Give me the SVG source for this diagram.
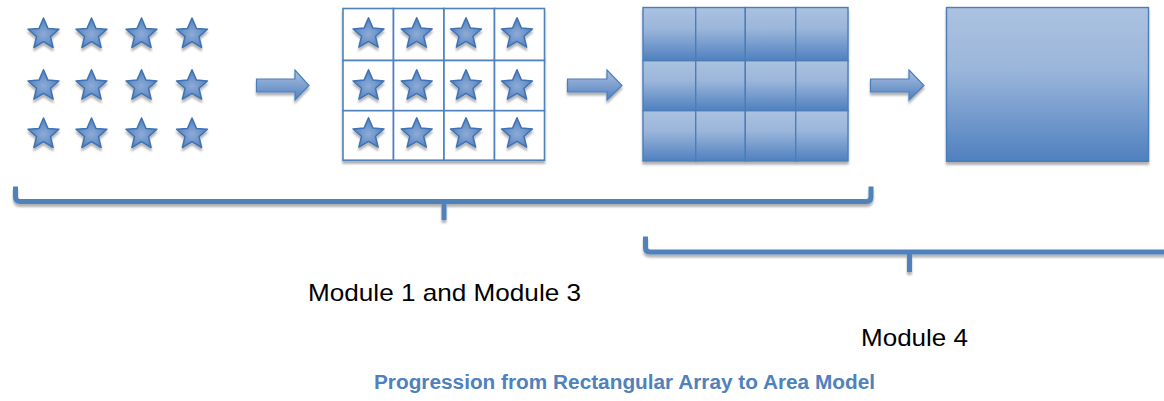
<svg xmlns="http://www.w3.org/2000/svg" xmlns:xlink="http://www.w3.org/1999/xlink" width="1164" height="401" viewBox="0 0 1164 401">
<style>
  .txt { font-family: "Liberation Sans", Arial, sans-serif; fill: #000; }
  .title { font-family: "Liberation Sans", Arial, sans-serif; font-weight: bold; fill: #4f81bd; }
  .cell { fill: #fff; stroke: #4f81bd; stroke-width: 1.6; }
  .tile { fill: url(#blueGrad); stroke: #4a7ebb; stroke-width: 1.4; }
  .bracket { fill: none; stroke: #4f81bd; stroke-width: 5; }
  .arrow { fill: url(#arrowGrad); stroke: #4a7ebb; stroke-width: 1.2; }
</style>
<defs>
  <linearGradient id="blueGrad" x1="0" y1="0" x2="0" y2="1">
    <stop offset="0" stop-color="#abc2e0"/>
    <stop offset="0.4" stop-color="#9bb6db"/>
    <stop offset="1" stop-color="#4f80bf"/>
  </linearGradient>
  <linearGradient id="arrowGrad" x1="0" y1="0" x2="0" y2="1">
    <stop offset="0" stop-color="#a9c0df"/>
    <stop offset="0.5" stop-color="#7fa1d0"/>
    <stop offset="1" stop-color="#4f80bf"/>
  </linearGradient>
  <radialGradient id="starGrad" cx="0.5" cy="0.55" r="0.55">
    <stop offset="0" stop-color="#8eabd6"/>
    <stop offset="1" stop-color="#4f80bf"/>
  </radialGradient>
  <filter id="shadow" x="-20%" y="-20%" width="140%" height="150%">
    <feDropShadow dx="0" dy="3" stdDeviation="1.3" flood-color="#000" flood-opacity="0.3"/>
  </filter>
  <path id="star" d="M0,-16.3 L4.4,-5.9 L15.5,-5.0 L7.0,2.3 L9.6,13.2 L0,7.4 L-9.6,13.2 L-7.0,2.3 L-15.5,-5.0 L-4.4,-5.9 Z" fill="url(#starGrad)" stroke="#3f72b3" stroke-width="1.5" stroke-linejoin="round"/>
</defs>
<rect width="1164" height="401" fill="#fff"/>

<g id="star-array" filter="url(#shadow)">
  <use xlink:href="#star" x="43.5" y="34.3"/>
  <use xlink:href="#star" x="91.5" y="34.3"/>
  <use xlink:href="#star" x="141.5" y="34.3"/>
  <use xlink:href="#star" x="192" y="34.3"/>
  <use xlink:href="#star" x="43.5" y="86"/>
  <use xlink:href="#star" x="91.5" y="86"/>
  <use xlink:href="#star" x="141.5" y="86"/>
  <use xlink:href="#star" x="192" y="86"/>
  <use xlink:href="#star" x="43.5" y="134.3"/>
  <use xlink:href="#star" x="91.5" y="134.3"/>
  <use xlink:href="#star" x="141.5" y="134.3"/>
  <use xlink:href="#star" x="192" y="134.3"/>
</g>

<g id="star-grid">
  <g filter="url(#shadow)">
    <rect class="cell" x="343" y="8.5" width="50.5" height="52"/>
    <rect class="cell" x="393.5" y="8.5" width="50.5" height="52"/>
    <rect class="cell" x="444" y="8.5" width="50.5" height="52"/>
    <rect class="cell" x="494.5" y="8.5" width="50" height="52"/>
    <rect class="cell" x="343" y="60.5" width="50.5" height="50.2"/>
    <rect class="cell" x="393.5" y="60.5" width="50.5" height="50.2"/>
    <rect class="cell" x="444" y="60.5" width="50.5" height="50.2"/>
    <rect class="cell" x="494.5" y="60.5" width="50" height="50.2"/>
    <rect class="cell" x="343" y="110.7" width="50.5" height="49.5"/>
    <rect class="cell" x="393.5" y="110.7" width="50.5" height="49.5"/>
    <rect class="cell" x="444" y="110.7" width="50.5" height="49.5"/>
    <rect class="cell" x="494.5" y="110.7" width="50" height="49.5"/>
  </g>
  <g filter="url(#shadow)">
    <use xlink:href="#star" x="368.5" y="34"/>
    <use xlink:href="#star" x="416.7" y="34"/>
    <use xlink:href="#star" x="466" y="34"/>
    <use xlink:href="#star" x="517" y="34"/>
    <use xlink:href="#star" x="368.5" y="86"/>
    <use xlink:href="#star" x="416.7" y="86"/>
    <use xlink:href="#star" x="466" y="86"/>
    <use xlink:href="#star" x="517" y="86"/>
    <use xlink:href="#star" x="368.5" y="134"/>
    <use xlink:href="#star" x="416.7" y="134"/>
    <use xlink:href="#star" x="466" y="134"/>
    <use xlink:href="#star" x="517" y="134"/>
  </g>
</g>

<g id="tile-grid" filter="url(#shadow)">
  <rect class="tile" x="643" y="7.5" width="52.7" height="53.2"/>
  <rect class="tile" x="695.7" y="7.5" width="49.6" height="53.2"/>
  <rect class="tile" x="745.3" y="7.5" width="50.4" height="53.2"/>
  <rect class="tile" x="795.7" y="7.5" width="52.3" height="53.2"/>
  <rect class="tile" x="643" y="60.7" width="52.7" height="50"/>
  <rect class="tile" x="695.7" y="60.7" width="49.6" height="50"/>
  <rect class="tile" x="745.3" y="60.7" width="50.4" height="50"/>
  <rect class="tile" x="795.7" y="60.7" width="52.3" height="50"/>
  <rect class="tile" x="643" y="110.7" width="52.7" height="50.3"/>
  <rect class="tile" x="695.7" y="110.7" width="49.6" height="50.3"/>
  <rect class="tile" x="745.3" y="110.7" width="50.4" height="50.3"/>
  <rect class="tile" x="795.7" y="110.7" width="52.3" height="50.3"/>
</g>

<g id="area-model" filter="url(#shadow)">
  <rect class="tile" x="946.5" y="7.5" width="202" height="153.8"/>
</g>

<g id="connectors" filter="url(#shadow)">
  <path class="arrow" d="M256.5,79 H295 V70 L309,85.5 L295,100 V92 H256.5 Z"/>
  <path class="arrow" d="M567.5,79 H607 V70 L622,85.5 L607,100 V92 H567.5 Z"/>
  <path class="arrow" d="M870.5,79 H909 V70 L924,85.5 L909,100 V92 H870.5 Z"/>
</g>

<g id="bracket-modules-1-3" filter="url(#shadow)">
  <path class="bracket" d="M15.5,186.5 V197 Q15.5,201.5 20,201.5 H866.5 Q871,201.5 871,197 V186.5"/>
  <path class="bracket" d="M444,201.5 V220" stroke-width="5.5"/>
</g>

<g id="bracket-module-4" filter="url(#shadow)">
  <path class="bracket" d="M645.5,236.5 V247.5 Q645.5,252 650,252 H1170"/>
  <path class="bracket" d="M909.5,252 V272" stroke-width="5.5"/>
</g>

<g id="labels">
  <text class="txt" x="308" y="301" font-size="24" textLength="273" lengthAdjust="spacingAndGlyphs">Module 1 and Module 3</text>
  <text class="txt" x="861" y="346" font-size="24" textLength="107" lengthAdjust="spacingAndGlyphs">Module 4</text>
  <text class="title" x="374" y="389" font-size="20" textLength="501" lengthAdjust="spacingAndGlyphs">Progression from Rectangular Array to Area Model</text>
</g>
</svg>
